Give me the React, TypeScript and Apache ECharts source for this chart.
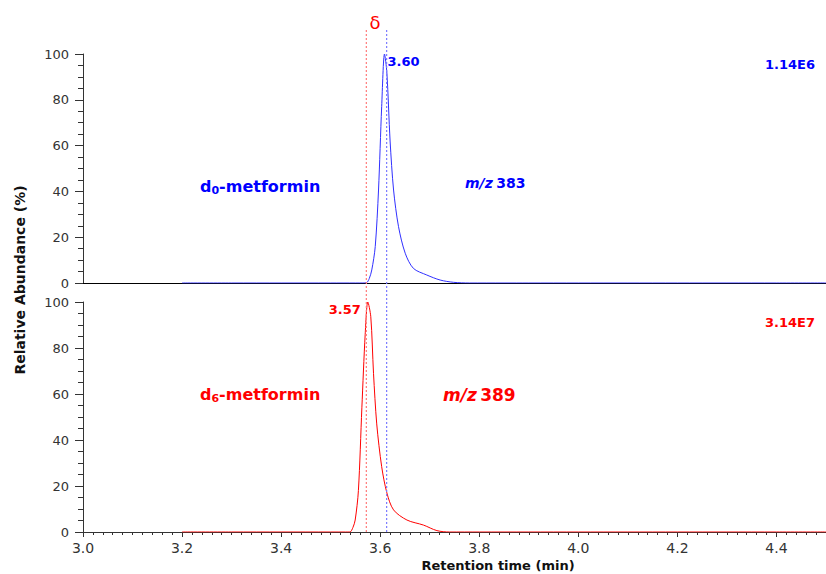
import React, { useEffect, useRef } from "react";
import * as echarts from "echarts";

// ---- data ----
const d0Time = [3.2, 3.3, 3.4, 3.5, 3.55, 3.565, 3.573, 3.578, 3.583, 3.59, 3.5966, 3.603, 3.6087, 3.6135, 3.62, 3.627, 3.637, 3.6505, 3.667, 3.694, 3.721, 3.748, 3.78, 3.85, 3.9, 4.0, 4.1, 4.2, 4.3, 4.4, 4.5];
const d0Abund = [0, 0, 0, 0, 0, 0, 0.2, 2, 5.7, 15.9, 40.6, 77, 100, 91.7, 62, 40.6, 24.6, 13, 6.4, 3.5, 1.3, 0.3, 0, 0, 0, 0, 0, 0, 0, 0, 0];

const d6Time = [3.2, 3.3, 3.4, 3.5, 3.53, 3.539, 3.545, 3.5495, 3.556, 3.563, 3.5697, 3.575, 3.581, 3.5865, 3.593, 3.603, 3.6135, 3.627, 3.654, 3.6875, 3.7145, 3.74, 3.8, 3.9, 4.0, 4.1, 4.2, 4.3, 4.4, 4.5];
const d6Abund = [0, 0, 0, 0, 0, 0, 2, 5.2, 18, 54, 86, 100, 93.6, 69, 47, 28.4, 17, 9.6, 5.2, 3, 0.6, 0, 0, 0, 0, 0, 0, 0, 0, 0];

const xTicks = { min: 3.0, max: 4.5, interval: 0.2 };
const yTicks = { min: 0, max: 100, interval: 20 };

const d0Peak = { time: 3.6087, abund: 100, label: "3.60" };
const d6Peak = { time: 3.575, abund: 100, label: "3.57" };
const refLines = { d6: 3.572, d0: 3.613 };

const d0Scale = "1.14E6";
const d6Scale = "3.14E7";

const FONT = "DejaVu Sans";
const BLUE = "#0000ff";
const BLUE_LINE = "#3030ff";
const RED = "#ff0000";
const AXIS = "#333333";

function zip(a: number[], b: number[]) {
  return a.map((v, i) => [v, b[i]]);
}

export default function App() {
  const ref = useRef<HTMLDivElement>(null);
  useEffect(() => {
    document.body.style.margin = "0";
    if (!ref.current) return;
    const chart = echarts.init(ref.current, null, { renderer: "svg" });

    const yAxisBase = (gridIndex: number) => ({
      gridIndex,
      type: "value",
      min: yTicks.min,
      max: yTicks.max,
      interval: yTicks.interval,
      axisLine: { show: true, lineStyle: { color: AXIS, width: 1 } },
      axisTick: { show: true, length: 8, lineStyle: { color: AXIS } },
      minorTick: { show: true, splitNumber: 4, length: 5, lineStyle: { color: AXIS } },
      axisLabel: { fontSize: 13, color: AXIS, margin: 14, fontFamily: FONT },
      splitLine: { show: false },
    });

    // vertical reference line drawn as a 2-point line series in the full-height hidden grid
    const refLineSeries = (name: string, x: number, color: string) => ({
      name,
      type: "line",
      xAxisIndex: 2,
      yAxisIndex: 2,
      data: [
        [x, 0],
        [x, 1],
      ],
      color,
      showSymbol: false,
      silent: true,
      itemStyle: { color },
      lineStyle: { color, type: [2, 2], width: 1.2 },
      z: 4,
    });

    const option: any = {
      animation: false,
      textStyle: { fontFamily: FONT },
      grid: [
        { left: 83, width: 743, top: 54, height: 229 },
        { left: 83, width: 743, top: 302, height: 230 },
        { left: 83, width: 743, top: 30, height: 502 },
      ],
      xAxis: [
        {
          gridIndex: 0,
          type: "value",
          min: xTicks.min,
          max: xTicks.max,
          axisLine: { show: true, lineStyle: { color: "#000", width: 1 } },
          axisTick: { show: false },
          axisLabel: { show: false },
          splitLine: { show: false },
        },
        {
          gridIndex: 1,
          type: "value",
          min: xTicks.min,
          max: xTicks.max,
          interval: xTicks.interval,
          axisLine: { show: true, lineStyle: { color: AXIS, width: 1 } },
          axisTick: { show: true, length: 5, lineStyle: { color: AXIS } },
          minorTick: { show: true, splitNumber: 10, length: 3, lineStyle: { color: AXIS } },
          axisLabel: {
            fontSize: 14,
            color: AXIS,
            margin: 9,
            fontFamily: FONT,
            showMaxLabel: false,
            formatter: (v: number) => v.toFixed(1),
          },
          splitLine: { show: false },
        },
        { gridIndex: 2, type: "value", min: xTicks.min, max: xTicks.max, show: false },
      ],
      yAxis: [
        yAxisBase(0),
        yAxisBase(1),
        { gridIndex: 2, type: "value", min: 0, max: 1, show: false },
      ],
      series: [
        {
          type: "line",
          xAxisIndex: 0,
          yAxisIndex: 0,
          data: zip(d0Time, d0Abund),
          showSymbol: false,
          smooth: 0.3,
          lineStyle: { color: BLUE_LINE, width: 1 },
          z: 3,
          markPoint: {
            silent: true,
            symbol: "circle",
            symbolSize: 0,
            data: [{ coord: [d0Peak.time, d0Peak.abund], value: d0Peak.label }],
            label: {
              show: true,
              position: "right",
              distance: 3,
              offset: [0, 7],
              formatter: d0Peak.label,
              color: BLUE,
              fontWeight: "bold",
              fontSize: 13,
              fontFamily: FONT,
            },
          },
        },
        {
          type: "line",
          xAxisIndex: 1,
          yAxisIndex: 1,
          data: zip(d6Time, d6Abund),
          showSymbol: false,
          smooth: 0.3,
          lineStyle: { color: RED, width: 1 },
          z: 3,
          markPoint: {
            silent: true,
            symbol: "circle",
            symbolSize: 0,
            data: [{ coord: [d6Peak.time, d6Peak.abund], value: d6Peak.label }],
            label: {
              show: true,
              position: "left",
              distance: 7,
              offset: [0, 7],
              formatter: d6Peak.label,
              color: RED,
              fontWeight: "bold",
              fontSize: 13,
              fontFamily: FONT,
            },
          },
        },
        refLineSeries("d6 line", refLines.d6, "#ff7a7a"),
        refLineSeries("d0 line", refLines.d0, "#7a7aff"),
      ],
      graphic: [
        {
          type: "text",
          x: 375,
          y: 22,
          style: { text: "δ", fill: RED, fontSize: 18, fontFamily: FONT, align: "center", verticalAlign: "middle" },
        },
        {
          type: "text",
          x: 200,
          y: 186,
          style: {
            text: "{a|d}{s|0}{a|-metformin}",
            fill: BLUE,
            verticalAlign: "middle",
            rich: {
              a: { fontSize: 16, fontWeight: "bold", fontFamily: FONT, fill: BLUE },
              s: { fontSize: 11, fontWeight: "bold", fontFamily: FONT, fill: BLUE, padding: [8, 0, 0, 0] },
            },
          },
        },
        {
          type: "text",
          x: 465,
          y: 183,
          style: {
            text: "{i|m/z} {b|383}",
            verticalAlign: "middle",
            rich: {
              i: { fontSize: 14, fontWeight: "bold", fontStyle: "italic", fontFamily: FONT, fill: BLUE },
              b: { fontSize: 14, fontWeight: "bold", fontFamily: FONT, fill: BLUE },
            },
          },
        },
        {
          type: "text",
          x: 765,
          y: 64,
          style: { text: d0Scale, fill: BLUE, fontSize: 13, fontWeight: "bold", fontFamily: FONT, verticalAlign: "middle" },
        },
        {
          type: "text",
          x: 200,
          y: 394,
          style: {
            text: "{a|d}{s|6}{a|-metformin}",
            fill: RED,
            verticalAlign: "middle",
            rich: {
              a: { fontSize: 16, fontWeight: "bold", fontFamily: FONT, fill: RED },
              s: { fontSize: 11, fontWeight: "bold", fontFamily: FONT, fill: RED, padding: [8, 0, 0, 0] },
            },
          },
        },
        {
          type: "text",
          x: 443,
          y: 395,
          style: {
            text: "{i|m/z} {b|389}",
            verticalAlign: "middle",
            rich: {
              i: { fontSize: 17, fontWeight: "bold", fontStyle: "italic", fontFamily: FONT, fill: RED },
              b: { fontSize: 17, fontWeight: "bold", fontFamily: FONT, fill: RED },
            },
          },
        },
        {
          type: "text",
          x: 765,
          y: 322,
          style: { text: d6Scale, fill: RED, fontSize: 13, fontWeight: "bold", fontFamily: FONT, verticalAlign: "middle" },
        },
        {
          type: "text",
          x: 20,
          y: 280,
          rotation: Math.PI / 2,
          style: {
            text: "Relative Abundance (%)",
            fill: "#111",
            fontSize: 14,
            fontWeight: "bold",
            fontFamily: FONT,
            align: "center",
            verticalAlign: "middle",
          },
        },
        {
          type: "text",
          x: 498,
          y: 565,
          style: {
            text: "Retention time (min)",
            fill: "#111",
            fontSize: 13,
            fontWeight: "bold",
            fontFamily: FONT,
            align: "center",
            verticalAlign: "middle",
          },
        },
      ],
    };
    chart.setOption(option);
    return () => chart.dispose();
  }, []);
  return <div ref={ref} style={{ width: 826, height: 574 }} />;
}
